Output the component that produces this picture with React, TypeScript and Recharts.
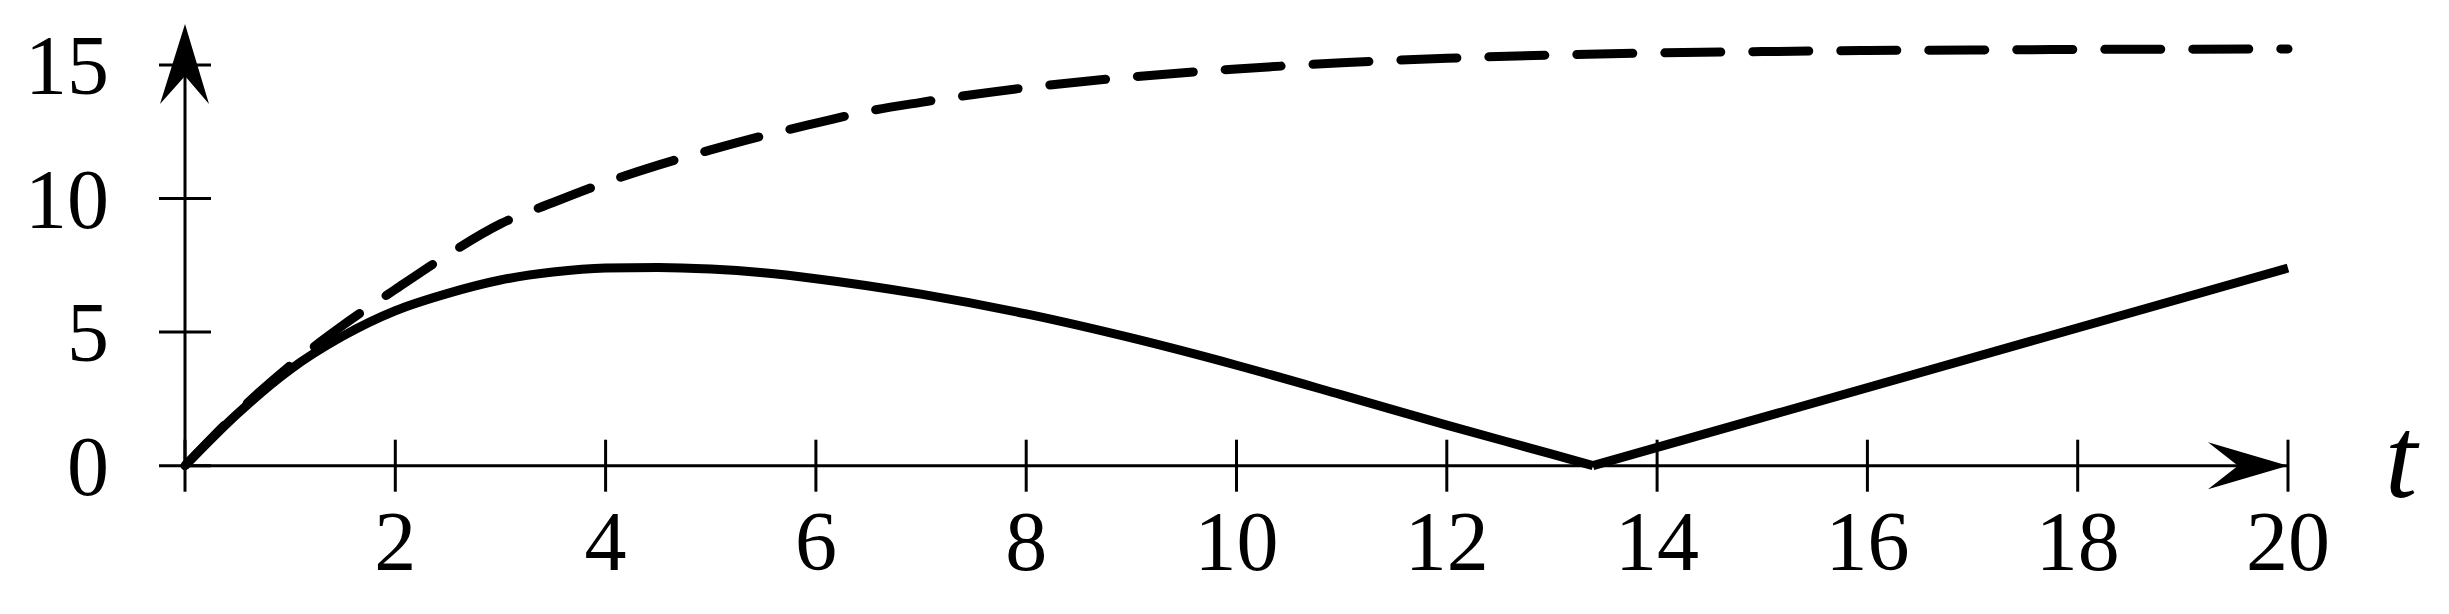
import React from "react";
import { LineChart, Line, XAxis, YAxis, ReferenceLine, ReferenceDot, Label } from "recharts";

// dashed curve (upper, saturating)
const dashT = [0, 0.5, 1, 1.5, 2, 2.5, 3, 3.5, 4, 4.5, 5, 5.5, 6, 6.5, 7, 8, 9, 10, 11, 12, 13, 14, 15, 16, 17, 18, 19, 20];
const dashV = [0, 2.0, 3.75, 5.25, 6.6, 7.9, 9.05, 9.85, 10.6, 11.25, 11.82, 12.35, 12.82, 13.27, 13.6, 14.15, 14.55, 14.85, 15.08, 15.25, 15.37, 15.45, 15.5, 15.54, 15.56, 15.58, 15.59, 15.6];

// solid curve, up to the zero crossing
const riseT = [0, 0.5, 1, 1.5, 2, 2.5, 3, 3.5, 4, 4.5, 5, 5.5, 6, 7, 8, 9, 10, 11, 12, 13, 13.39];
const riseV = [0, 1.95, 3.6, 4.85, 5.8, 6.45, 6.95, 7.25, 7.4, 7.42, 7.36, 7.22, 7.0, 6.42, 5.68, 4.78, 3.76, 2.65, 1.52, 0.43, 0];

// solid curve after the crossing
const climbT = [13.39, 20];
const climbV = [0, 7.4];

const xTicks = [0, 2, 4, 6, 8, 10, 12, 14, 16, 18, 20];
const yTicks = [0, 5, 10, 15];
const xName = "t";

const rows = (ts: number[], vs: number[]) => ts.map((t, i) => ({ t, v: vs[i] }));

const FONT = "'Liberation Serif', 'Times New Roman', serif";

const YTick = (p: any) => {
  const { x, y, payload } = p;
  return (
    <g>
      <line x1={x - 26} x2={x + 26} y1={y} y2={y} stroke="#000" strokeWidth={3} />
      <text x={x - 76} y={y + 29} textAnchor="end" fontFamily={FONT} fontSize={84} fill="#000">
        {payload.value}
      </text>
    </g>
  );
};

const XTick = (p: any) => {
  const { x, y, payload } = p;
  return (
    <g>
      <line x1={x} x2={x} y1={y - 26} y2={y + 26} stroke="#000" strokeWidth={3} />
      {payload.value !== 0 && (
        <text x={x} y={y + 104} textAnchor="middle" fontFamily={FONT} fontSize={84} fill="#000">
          {payload.value}
        </text>
      )}
    </g>
  );
};

const UpArrow = (p: any) => {
  const { cx, cy } = p;
  return <path d={`M${cx},${cy} L${cx + 24},${cy + 80} L${cx},${cy + 52} L${cx - 25},${cy + 80} Z`} fill="#000" />;
};

const RightArrow = (p: any) => {
  const { cx, cy } = p;
  return <path d={`M${cx},${cy} L${cx - 80},${cy + 23.5} L${cx - 50},${cy} L${cx - 80},${cy - 23.5} Z`} fill="#000" />;
};

const TName = (p: any) => {
  const vb = p.viewBox;
  return (
    <text x={vb.x + vb.width + 97} y={vb.y + 31} fontFamily={FONT} fontStyle="italic" fontSize={116} fill="#000">
      {xName}
    </text>
  );
};

export default function App() {
  return (
    <div style={{ width: 2449, height: 614, background: "#fff" }}>
      <style>{"body{margin:0}"}</style>
      <LineChart width={2449} height={614} margin={{ top: 11.5, right: 161, bottom: 28.3, left: 65 }}>
        <XAxis
          dataKey="t"
          type="number"
          domain={[0, 20]}
          ticks={xTicks}
          interval={0}
          tickSize={0}
          tickMargin={0}
          tickLine={false}
          height={120}
          axisLine={{ stroke: "#000", strokeWidth: 3 }}
          tick={<XTick />}
        >
          <Label content={<TName />} />
        </XAxis>
        <YAxis
          type="number"
          domain={[0, 17]}
          ticks={yTicks}
          interval={0}
          width={120}
          tickSize={0}
          tickMargin={0}
          tickLine={false}
          axisLine={false}
          tick={<YTick />}
        />
        <ReferenceLine segment={[{ x: 0, y: 0 }, { x: 0, y: 16 }]} stroke="#000" strokeWidth={3} />
        <ReferenceDot x={0} y={16.53} r={1} shape={<UpArrow />} />
        <ReferenceDot x={20} y={0} r={1} shape={<RightArrow />} />
        <Line
          data={rows(dashT, dashV)}
          dataKey="v"
          type="monotone"
          stroke="#000"
          strokeWidth={9}
          strokeDasharray="56 32"
          strokeLinecap="round"
          dot={false}
          isAnimationActive={false}
        />
        <Line
          data={rows(riseT, riseV)}
          dataKey="v"
          type="monotone"
          stroke="#000"
          strokeWidth={9}
          dot={false}
          isAnimationActive={false}
        />
        <Line
          data={rows(climbT, climbV)}
          dataKey="v"
          type="linear"
          stroke="#000"
          strokeWidth={9}
          dot={false}
          isAnimationActive={false}
        />
      </LineChart>
    </div>
  );
}
